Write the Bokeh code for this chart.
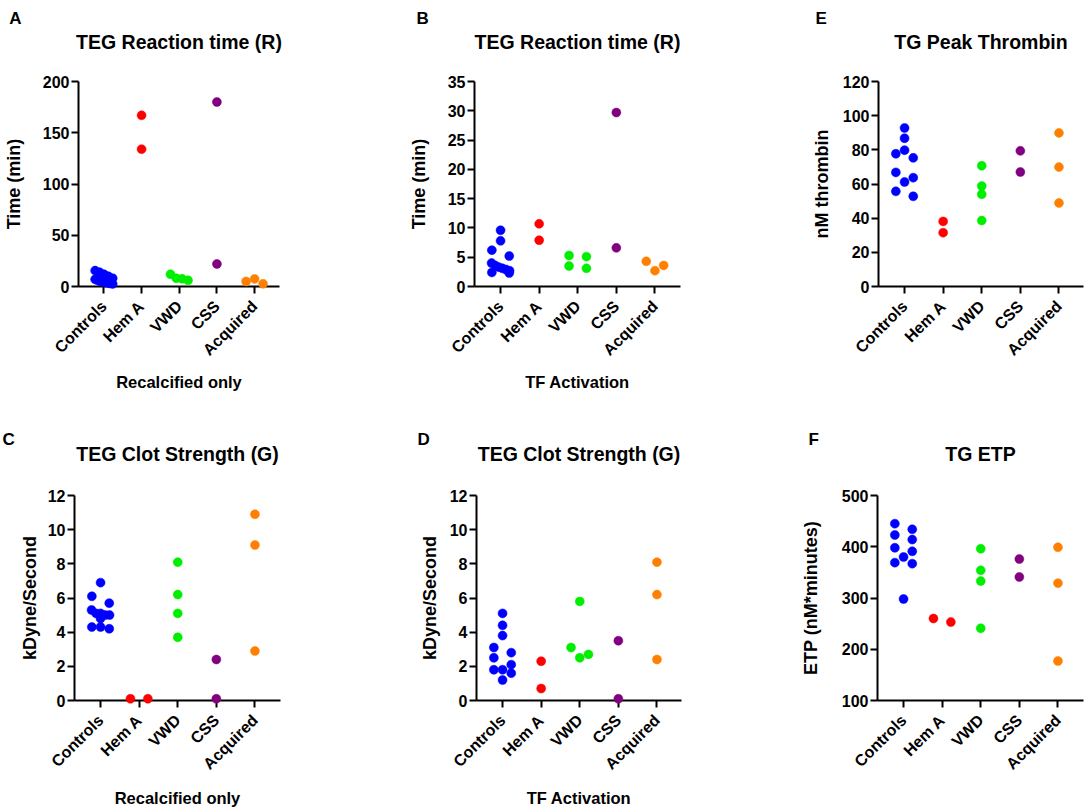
import math
from bokeh.plotting import figure
from bokeh.models import FixedTicker, Range1d, ColumnDataSource
from bokeh.layouts import row, column
from bokeh.core.properties import value
from bokeh.embed import file_html
from bokeh.resources import INLINE

# ---------------- data ----------------
categories = ["Controls", "Hem A", "VWD", "CSS", "Acquired"]
group_colors = ["#0000FF", "#FF0000", "#00EE00", "#800080", "#FF8000"]

# A: TEG Reaction time (R), recalcified only
a_controls = [15.5, 14, 12, 10, 8, 7, 6, 5, 4.5, 4, 3.5, 3, 2.5]
a_hema = [167, 134]
a_vwd = [12, 8, 7.5, 6]
a_css = [180, 22]
a_acq = [7.4, 4.9, 2.6]
a_ticks = [0, 50, 100, 150, 200]

# B: TEG Reaction time (R), TF activation
b_controls = [9.6, 7.8, 6.2, 5.2, 4.0, 3.6, 3.3, 3.1, 2.9, 2.7, 2.4, 2.3]
b_hema = [10.7, 7.9]
b_vwd = [5.3, 5.1, 3.5, 3.1]
b_css = [29.7, 6.6]
b_acq = [4.3, 3.6, 2.7]
b_ticks = [0, 5, 10, 15, 20, 25, 30, 35]

# C: TEG Clot Strength (G), recalcified only
c_controls = [6.9, 6.1, 5.7, 5.3, 5.1, 5.1, 5.0, 5.0, 4.8, 4.3, 4.3, 4.2]
c_hema = [0.1, 0.1]
c_vwd = [8.1, 6.2, 5.1, 3.7]
c_css = [2.4, 0.1]
c_acq = [10.9, 9.1, 2.9]
c_ticks = [0, 2, 4, 6, 8, 10, 12]

# D: TEG Clot Strength (G), TF activation
d_controls = [5.1, 4.4, 3.8, 3.1, 2.8, 2.5, 2.1, 1.8, 1.8, 1.6, 1.2]
d_hema = [2.3, 0.7]
d_vwd = [5.8, 3.1, 2.7, 2.5]
d_css = [3.5, 0.1]
d_acq = [8.1, 6.2, 2.4]
d_ticks = [0, 2, 4, 6, 8, 10, 12]

# E: TG Peak Thrombin
e_controls = [92.8, 86.8, 79.8, 77.7, 75.3, 66.8, 63.7, 61.2, 55.7, 52.8]
e_hema = [38.1, 31.5]
e_vwd = [70.7, 58.8, 54.0, 38.6]
e_css = [79.4, 67.0]
e_acq = [89.9, 69.9, 48.9]
e_ticks = [0, 20, 40, 60, 80, 100, 120]

# F: TG ETP
f_controls = [445, 434, 423, 414, 398, 391, 380, 369, 367, 298]
f_hema = [253, 260]
f_vwd = [396, 354, 333, 241]
f_css = [376, 341]
f_acq = [399, 329, 177]
f_ticks = [100, 200, 300, 400, 500]

FONT = "Liberation Sans"
PX_PER_CAT = 38.6
X_START = -0.675


def swarm_offsets(vals, px_per_unit_y, d=8.0, step=8.7, wmax=9.0):
    """Deterministic scatter-column layout (rows of overlapping points spread sideways)."""
    n = len(vals)
    order = sorted(range(n), key=lambda i: -vals[i])
    rows = []
    for i in order:
        if rows and (vals[rows[-1][0]] - vals[i]) * px_per_unit_y < d:
            rows[-1].append(i)
        else:
            rows.append([i])
    off = [0.0] * n
    for r in rows:
        k = len(r)
        if k == 1:
            slots = [0]
        elif k == 2:
            slots = [-1, 1]
        elif k == 3:
            slots = [0, -1, 1]
        else:
            slots = [j - (k - 1) / 2 for j in range(k)]
        px = [s * step for s in slots]
        m = max(abs(v) for v in px)
        if m > wmax:
            px = [v * wmax / m for v in px]
        for i, v in zip(r, px):
            off[i] = v
    return off


def make_panel(groups, ticks, title, ylabel, xlabel, letter, W, H, L, R, T, B,
               ylab_std, xlab_std, title_std, letter_px):
    fw = W - L - R
    fh = H - T - B
    y0, y1 = ticks[0], ticks[-1]
    x1 = X_START + fw / PX_PER_CAT
    p = figure(width=W, height=H, min_border_left=L, min_border_right=R,
               min_border_top=T, min_border_bottom=B,
               x_range=Range1d(X_START, x1), y_range=Range1d(y0, y1),
               output_backend="svg", toolbar_location=None, tools="")
    p.background_fill_color = "white"
    p.border_fill_color = "white"
    p.outline_line_color = None
    p.xgrid.grid_line_color = None
    p.ygrid.grid_line_color = None

    ppu_y = fh / (y1 - y0)
    upx_x = (x1 - X_START) / fw
    xs, ys, cs = [], [], []
    for gi, vals in enumerate(groups):
        offs = swarm_offsets(vals, ppu_y)
        for v, o in zip(vals, offs):
            xs.append(gi + o * upx_x)
            ys.append(v)
            cs.append(group_colors[gi])
    src = ColumnDataSource(dict(x=xs, y=ys, color=cs))
    r = p.scatter("x", "y", source=src, size=9, fill_color="color",
                  line_color="color", line_width=0.5)
    r.level = "overlay"

    for ax in (p.xaxis[0], p.yaxis[0]):
        ax.axis_line_width = 2
        ax.axis_line_color = "black"
        ax.major_tick_line_width = 2
        ax.major_tick_line_color = "black"
        ax.major_tick_out = 7
        ax.major_tick_in = 0
        ax.minor_tick_out = 0
        ax.minor_tick_in = 0
        ax.major_label_text_font = FONT
        ax.major_label_text_font_style = "bold"
        ax.major_label_text_color = "black"
        ax.axis_label_text_font = FONT
        ax.axis_label_text_font_style = "bold"
        ax.axis_label_text_color = "black"

    p.yaxis.ticker = FixedTicker(ticks=ticks)
    p.yaxis.major_label_text_font_size = "16px"
    p.yaxis.major_label_standoff = 2
    p.yaxis.axis_label = ylabel
    p.yaxis.axis_label_text_font_size = "18px"
    p.yaxis.axis_label_standoff = ylab_std

    p.xaxis.ticker = FixedTicker(ticks=list(range(len(categories))))
    p.xaxis.major_label_overrides = {i: c for i, c in enumerate(categories)}
    p.xaxis.major_label_orientation = math.pi / 4
    p.xaxis.major_label_text_font_size = "16px"
    p.xaxis.major_label_standoff = 10
    if xlabel:
        p.xaxis.axis_label = xlabel
        p.xaxis.axis_label_text_font_size = "16.5px"
        p.xaxis.axis_label_standoff = xlab_std

    p.title.text = title
    p.title.align = "center"
    p.title.text_font = FONT
    p.title.text_font_style = "bold"
    p.title.text_font_size = "19.5px"
    p.title.text_color = "black"
    p.title.standoff = title_std

    # panel letter, positioned through the figure's own scales
    lx, ly = letter_px
    tx = X_START + (lx - L) * upx_x
    ty = y1 + (T - ly) / ppu_y
    t = p.text(x=[tx], y=[ty], text=[letter], text_font=value(FONT),
               text_font_style="bold", text_font_size="17px", text_color="black",
               text_align="left", text_baseline="alphabetic")
    t.level = "overlay"
    return p


pA = make_panel([a_controls, a_hema, a_vwd, a_css, a_acq], a_ticks,
                "TEG Reaction time (R)", "Time (min)", "Recalcified only", "A",
                370, 408, 73, 91, 80, 122, 16, 5, 57, (2, 17))
pB = make_panel([b_controls, b_hema, b_vwd, b_css, b_acq], b_ticks,
                "TEG Reaction time (R)", "Time (min)", "TF Activation", "B",
                360, 408, 104, 50, 80, 122, 16, 5, 57, (46, 17))
pE = make_panel([e_controls, e_hema, e_vwd, e_css, e_acq], e_ticks,
                "TG Peak Thrombin", "nM thrombin", None, "E",
                354, 408, 148, 1, 80, 122, 8, 5, 57, (85, 17))
pC = make_panel([c_controls, c_hema, c_vwd, c_css, c_acq], c_ticks,
                "TEG Clot Strength (G)", "kDyne/Second", "Recalcified only", "C",
                370, 401, 74, 90, 87, 109, 5, 7, 62, (2, 31))
pD = make_panel([d_controls, d_hema, d_vwd, d_css, d_acq], d_ticks,
                "TEG Clot Strength (G)", "kDyne/Second", "TF Activation", "D",
                360, 401, 106, 49, 87, 109, 7, 7, 62, (47, 31))
pF = make_panel([f_controls, f_hema, f_vwd, f_css, f_acq], f_ticks,
                "TG ETP", "ETP (nM*minutes)", None, "F",
                354, 401, 147, 1, 87, 109, 18, 7, 62, (78, 31))

layout = column(row(pA, pB, pE), row(pC, pD, pF))
open("out.html", "w").write(file_html(layout, INLINE))
